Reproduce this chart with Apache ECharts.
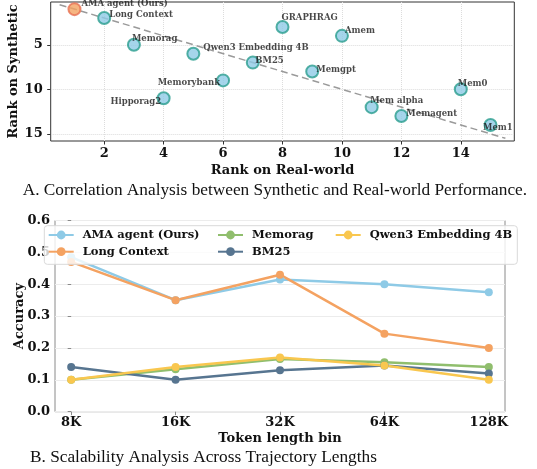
<!DOCTYPE html>
<html>
<head>
<meta charset="utf-8">
<script src="https://cdn.jsdelivr.net/npm/echarts@6/dist/echarts.min.js"></script>
<style>html,body{margin:0;padding:0;background:#fff;}#c{width:537px;height:469px;}</style>
</head>
<body>
<div id="c"></div>
<script>
// ---- Panel A data ----
const methodNames = ['AMA agent (Ours)','Long Context','Memorag','Qwen3 Embedding 4B','BM25','Memorybank','Hipporag2','GRAPHRAG','Amem','Memgpt','Mem0','Mem alpha','Memagent','Mem1'];
const realRank  = [1, 2, 3, 5, 7, 6, 4, 8, 10, 9, 14, 11, 12, 15];
const synthRank = [1, 2, 5, 6, 7, 9, 11, 3, 4, 8, 10, 12, 13, 14];
const diagonalEnds = [0.5, 15.5];
const rankTicksX = [2, 4, 6, 8, 10, 12, 14];
const rankTicksY = [5, 10, 15];

// ---- Panel B data ----
const tokenBins = ['8K', '16K', '32K', '64K', '128K'];
const accTicks = [0, 0.1, 0.2, 0.3, 0.4, 0.5, 0.6];
const amaAcc     = [0.485, 0.35, 0.415, 0.40, 0.375];
const longCtxAcc = [0.47, 0.35, 0.43, 0.245, 0.20];
const memoragAcc = [0.10, 0.133, 0.165, 0.155, 0.14];
const bm25Acc    = [0.14, 0.10, 0.13, 0.145, 0.12];
const qwenAcc    = [0.10, 0.14, 0.17, 0.145, 0.10];

// label placement (style only): [dx, dy, align] relative to marker centre
const labelPlace = {
  'AMA agent (Ours)': [8, -4, 'left'],
  'Long Context': [6, -2, 'left'],
  'Memorag': [-1, -5, 'left'],
  'Qwen3 Embedding 4B': [11, -4.5, 'left'],
  'BM25': [3.5, -0.7, 'left'],
  'Memorybank': [-2, 3.7, 'right'],
  'Hipporag2': [-1.5, 4.5, 'right'],
  'GRAPHRAG': [0, -8, 'left'],
  'Amem': [4, -4, 'left'],
  'Memgpt': [5, -1, 'left'],
  'Mem0': [-2, -5, 'left'],
  'Mem alpha': [-0.5, -5.5, 'left'],
  'Memagent': [6, -1, 'left'],
  'Mem1': [-6.5, 4, 'left']
};

const serifBold = {fontFamily: 'DejaVu Serif', fontWeight: 'bold', color: '#111'};
const MS = 12; // marker size

const scatterData = methodNames.map((n, i) => {
  const p = labelPlace[n];
  const ours = i === 0;
  return {
    name: n,
    value: [realRank[i], synthRank[i]],
    itemStyle: ours ? {color: '#F4A261', borderColor: '#E76F51', borderWidth: 2}
                    : {color: '#8ECAE6', borderColor: '#2A9D8F', borderWidth: 2},
    label: {show: true, formatter: '{b}', position: [MS / 2 + p[0], MS / 2 + p[1]], align: p[2], verticalAlign: 'middle'}
  };
});

const mkLine = (name, arr, color) => ({
  name, type: 'line', xAxisIndex: 1, yAxisIndex: 1,
  data: arr.map((v, i) => [i, v]),
  symbol: 'circle', symbolSize: 8,
  lineStyle: {color, width: 2.5},
  itemStyle: {color},
  z: 3
});

const legendCommon = {
  orient: 'vertical', padding: 0, itemWidth: 25, itemHeight: 11, itemGap: 4.7,
  textStyle: Object.assign({fontSize: 11.5, lineHeight: 12, padding: [0, 0, 0, 4]}, serifBold),
  z: 10
};

const option = {
  animation: false,
  grid: [
    {left: 50.7, right: 22.7, top: 2, bottom: 328, outerBoundsMode: 'none', containLabel: false, show: true, borderColor: '#333', borderWidth: 1, backgroundColor: 'transparent'},
    {left: 55, right: 32, top: 220.5, bottom: 57.3, outerBoundsMode: 'none', containLabel: false, show: true, borderColor: '#8a8a8a', borderWidth: 1, backgroundColor: 'transparent'}
  ],
  xAxis: [
    {type: 'value', gridIndex: 0, min: 0.2, max: 15.8,
     name: 'Rank on Real-world', nameLocation: 'middle', nameGap: 23, nameMoveOverlap: false,
     nameTextStyle: Object.assign({fontSize: 13}, serifBold),
     axisLine: {show: false},
     axisTick: {show: true, length: 3.5, inside: false, customValues: rankTicksX, lineStyle: {color: '#333'}},
     axisLabel: {customValues: rankTicksX, margin: 6, fontSize: 13, ...serifBold},
     splitLine: {show: true, lineStyle: {color: '#dcdcdc', type: 'dotted', width: 1}}},
    {type: 'value', gridIndex: 1, min: -0.155, max: 4.155,
     name: 'Token length bin', nameLocation: 'middle', nameGap: 20, nameMoveOverlap: false,
     nameTextStyle: Object.assign({fontSize: 13}, serifBold),
     axisLine: {show: false},
     axisTick: {show: true, length: 3.5, customValues: [0, 1, 2, 3, 4], lineStyle: {color: '#8a8a8a'}},
     axisLabel: {customValues: [0, 1, 2, 3, 4], formatter: v => tokenBins[Math.round(v)], margin: 4, fontSize: 13, ...serifBold},
     splitLine: {show: false}}
  ],
  yAxis: [
    {type: 'value', gridIndex: 0, inverse: true, min: 0.2, max: 15.8,
     name: 'Rank on Synthetic', nameLocation: 'middle', nameGap: 31, nameRotate: 90, nameMoveOverlap: false,
     nameTextStyle: Object.assign({fontSize: 13}, serifBold),
     axisLine: {show: false},
     axisTick: {show: true, length: 3.5, customValues: rankTicksY, lineStyle: {color: '#333'}},
     axisLabel: {customValues: rankTicksY, margin: 8, fontSize: 13, ...serifBold},
     splitLine: {show: true, lineStyle: {color: '#dcdcdc', type: 'dotted', width: 1}}},
    {type: 'value', gridIndex: 1, min: 0, max: 0.6,
     name: 'Accuracy', nameLocation: 'middle', nameGap: 29, nameRotate: 90, nameMoveOverlap: false,
     nameTextStyle: Object.assign({fontSize: 13}, serifBold),
     axisLine: {show: false},
     axisTick: {show: true, length: 3.5, customValues: accTicks, lineStyle: {color: '#8a8a8a'}},
     axisLabel: {customValues: accTicks, hideOverlap: false, margin: 5, fontSize: 13, formatter: v => Number(v).toFixed(1), ...serifBold},
     splitLine: {show: true, lineStyle: {color: '#ececec', width: 1}}}
  ],
  legend: [
    Object.assign({left: 47.7, top: 229, data: ['AMA agent (Ours)', 'Long Context']}, legendCommon),
    Object.assign({left: 217, top: 229, data: ['Memorag', 'BM25']}, legendCommon),
    Object.assign({left: 334.7, top: 229, data: ['Qwen3 Embedding 4B']}, legendCommon)
  ],
  graphic: [
    {type: 'rect', z: 9, shape: {x: 44.3, y: 225.7, width: 473, height: 38.6, r: 3},
     style: {fill: 'rgba(255,255,255,0.8)', stroke: '#d9d9d9', lineWidth: 1}},
    {type: 'text', z: 9, style: {x: 22.7, y: 190.7, text: 'A. Correlation Analysis between Synthetic and Real-world Performance.',
      font: '17.3px "Liberation Serif"', fill: '#111', textVerticalAlign: 'middle'}},
    {type: 'text', z: 9, style: {x: 30, y: 457, text: 'B. Scalability Analysis Across Trajectory Lengths',
      font: '17.3px "Liberation Serif"', fill: '#111', textVerticalAlign: 'middle'}}
  ],
  series: [
    {type: 'line', xAxisIndex: 0, yAxisIndex: 0, silent: true,
     data: diagonalEnds.map(v => [v, v]), symbol: 'none',
     lineStyle: {color: '#9a9a9a', width: 1.5, type: [7, 4]}, z: 1},
    {type: 'scatter', xAxisIndex: 0, yAxisIndex: 0, symbolSize: MS,
     data: scatterData,
     label: {fontSize: 8.5, ...serifBold, color: '#1a1a1a'},
     labelLayout: {hideOverlap: false},
     z: 3},
    mkLine('AMA agent (Ours)', amaAcc, '#8ECAE6'),
    mkLine('Long Context', longCtxAcc, '#F4A261'),
    mkLine('Memorag', memoragAcc, '#90BE6D'),
    mkLine('BM25', bm25Acc, '#577590'),
    mkLine('Qwen3 Embedding 4B', qwenAcc, '#F9C74F')
  ]
};

const chart = echarts.init(document.getElementById('c'), null, {renderer: 'canvas'});
chart.setOption(option);
</script>
</body>
</html>
